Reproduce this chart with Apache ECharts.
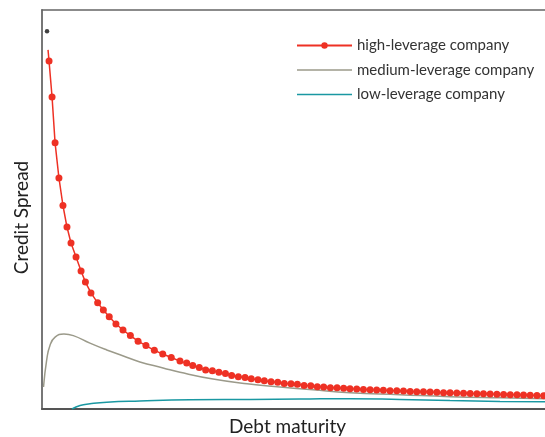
<!DOCTYPE html>
<html>
<head>
<meta charset="utf-8">
<script src="https://cdn.jsdelivr.net/npm/echarts@6/dist/echarts.min.js"></script>
<style>
html,body{margin:0;padding:0;background:#fff;overflow:hidden;}
#chart{width:545px;height:437px;}
</style>
</head>
<body>
<div id="chart"></div>
<script>
// Debt maturity (arbitrary units, 0..30) and credit spread (arbitrary units, 0..10)
var seriesNames = ['high-leverage company', 'medium-leverage company', 'low-leverage company'];

var highT = [0.36, 0.42, 0.60, 0.78, 1.01, 1.25, 1.49, 1.73, 2.03, 2.33, 2.59, 2.92, 3.32, 3.66, 4.01, 4.41, 4.83, 5.27, 5.73, 6.20, 6.70, 7.20, 7.71, 8.23, 8.63, 8.99, 9.38, 9.76, 10.16, 10.55, 10.94, 11.31, 11.71, 12.11, 12.48, 12.88, 13.26, 13.66, 14.06, 14.45, 14.85, 15.23, 15.63, 16.03, 16.42, 16.80, 17.20, 17.60, 17.99, 18.37, 18.77,
  19.17, 19.57, 19.96, 20.36, 20.76, 21.16, 21.56, 21.96, 22.35, 22.75, 23.15, 23.55, 23.95, 24.34, 24.74, 25.14, 25.54, 25.94, 26.33, 26.73, 27.13, 27.53, 27.93, 28.33, 28.72, 29.12, 29.52, 29.92];
var highS = [9.00, 8.72, 7.82, 6.67, 5.79, 5.10, 4.56, 4.16, 3.81, 3.46, 3.18, 2.91, 2.66, 2.48, 2.31, 2.13, 1.98, 1.84, 1.70, 1.59, 1.47, 1.38, 1.29, 1.20, 1.15, 1.09, 1.04, 0.98, 0.96, 0.92, 0.89, 0.84, 0.81, 0.79, 0.76, 0.73, 0.71, 0.68, 0.67, 0.64, 0.63, 0.62, 0.59, 0.58, 0.56, 0.55, 0.53, 0.53, 0.52, 0.51, 0.50,
  0.49, 0.48, 0.475, 0.47, 0.46, 0.455, 0.45, 0.44, 0.435, 0.43, 0.425, 0.42, 0.41, 0.405, 0.40, 0.395, 0.39, 0.385, 0.38, 0.375, 0.37, 0.365, 0.36, 0.355, 0.35, 0.345, 0.34, 0.335];

var medT = [0.09, 0.28, 0.48, 0.78, 1.31, 1.87, 2.86, 3.86, 4.85, 5.84, 7.22, 8.23, 10.20, 12.23, 14.19, 16.16, 18.37, 21.35, 24.34, 27.32, 30.00];
var medS = [0.55, 1.23, 1.60, 1.80, 1.88, 1.84, 1.65, 1.48, 1.33, 1.18, 1.03, 0.92, 0.75, 0.63, 0.55, 0.48, 0.41, 0.36, 0.31, 0.28, 0.26];

var lowT = [1.79, 2.27, 2.86, 3.86, 5.84, 8.83, 12.41, 15.39, 18.37, 21.35, 24.34, 27.32, 30.00];
var lowS = [0.00, 0.09, 0.13, 0.17, 0.20, 0.23, 0.24, 0.25, 0.26, 0.24, 0.21, 0.19, 0.18];

var dotT = [0.30];
var dotS = [9.47];

function pairs(t, s) { return t.map(function (v, i) { return [v, s[i]]; }); }

var highData = pairs(highT, highS).map(function (p, i) {
  return i === 0 ? { value: p, symbol: 'none' } : p;
});

var lineIcon = 'path://M0,0 L110,0 L110,3 L0,3 Z';

var chart = echarts.init(document.getElementById('chart'), null, { renderer: 'canvas' });
var font = 'Lato, "Open Sans", sans-serif';
chart.setOption({
  animation: false,
  backgroundColor: '#ffffff',
  textStyle: { fontFamily: font },
  grid: { left: 42, top: 10, right: 0, bottom: 28, containLabel: false, outerBoundsMode: 'none' },
  legend: {
    orient: 'vertical',
    left: 296,
    top: 38,
    padding: 0,
    itemWidth: 55,
    itemHeight: 8,
    itemGap: 9.5,
    symbolKeepAspect: true,
    data: [
      { name: seriesNames[0] },
      { name: seriesNames[1], icon: lineIcon },
      { name: seriesNames[2], icon: lineIcon }
    ],
    textStyle: { fontSize: 15, color: '#333', fontFamily: font }
  },
  xAxis: [{
    type: 'value', min: 0, max: 30,
    name: 'Debt maturity', nameLocation: 'middle', nameGap: 8,
    nameTextStyle: { fontSize: 19, color: '#222', fontFamily: font, padding: [0, 12, 0, 0] },
    axisLine: { show: true, lineStyle: { color: '#555', width: 2 } },
    axisTick: { show: false }, axisLabel: { show: false }, splitLine: { show: false }
  }, {
    type: 'value', min: 0, max: 30, position: 'top',
    axisLine: { show: true, onZero: false, lineStyle: { color: '#666', width: 1.5 } },
    axisTick: { show: false }, axisLabel: { show: false }, splitLine: { show: false }
  }],
  yAxis: {
    type: 'value', min: 0, max: 10,
    name: 'Credit Spread', nameLocation: 'middle', nameGap: 11,
    nameTextStyle: { fontSize: 19, color: '#222', fontFamily: font, padding: [0, 16, 0, 0] },
    axisLine: { show: true, lineStyle: { color: '#777', width: 2 } },
    axisTick: { show: false }, axisLabel: { show: false }, splitLine: { show: false }
  },
  series: [{
    name: seriesNames[0], type: 'line', data: highData,
    symbol: 'circle', symbolSize: 7, showSymbol: true, showAllSymbol: true,
    itemStyle: { color: '#ee3124' },
    lineStyle: { color: '#ee3124', width: 1.5 },
    smooth: false, z: 4
  }, {
    name: seriesNames[1], type: 'line', data: pairs(medT, medS),
    symbol: 'none', smooth: true,
    itemStyle: { color: '#9b9a8a' },
    lineStyle: { color: '#9b9a8a', width: 1.5 }, z: 3
  }, {
    name: seriesNames[2], type: 'line', data: pairs(lowT, lowS),
    symbol: 'none', smooth: true,
    itemStyle: { color: '#1a98a2' },
    lineStyle: { color: '#1a98a2', width: 1.5 }, z: 3
  }, {
    name: 'dot', type: 'scatter', data: pairs(dotT, dotS),
    symbolSize: 4.5, itemStyle: { color: '#111' }, z: 5
  }]
});
</script>
</body>
</html>
